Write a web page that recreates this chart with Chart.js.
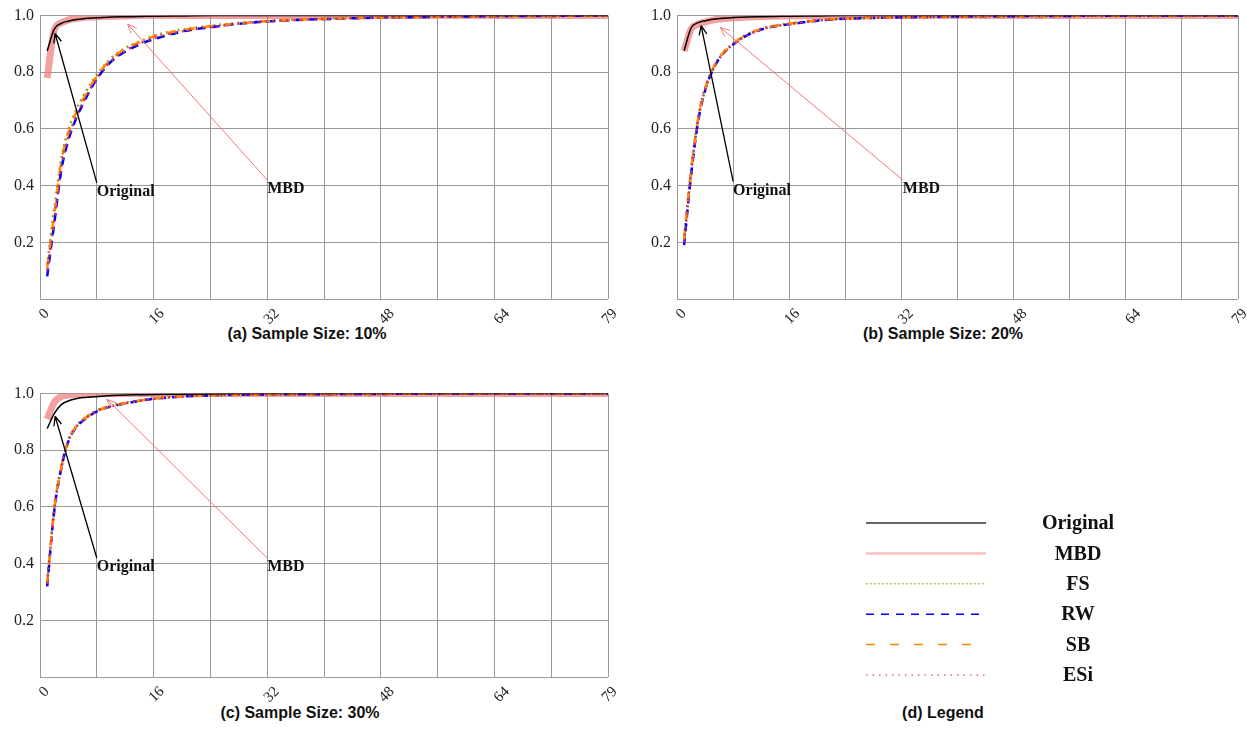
<!DOCTYPE html>
<html>
<head>
<meta charset="utf-8">
<script src="https://cdn.jsdelivr.net/npm/chart.js@4.4.0/dist/chart.umd.min.js"></script>
<style>
  body { margin: 0; background: #fff; width: 1247px; height: 756px; position: relative; overflow: hidden; }
  .panel { position: absolute; }
  .cap { position: absolute; width: 400px; text-align: center; font: bold 16px "Liberation Sans", Arial, sans-serif; color: #111; }
</style>
</head>
<body>
<div class="panel" style="left:0;top:0"><canvas id="c10" width="620" height="325"></canvas></div>
<div class="panel" style="left:637px;top:0"><canvas id="c20" width="610" height="325"></canvas></div>
<div class="panel" style="left:0;top:378px"><canvas id="c30" width="620" height="325"></canvas></div>
<div class="panel" style="left:637px;top:378px"><canvas id="cleg" width="610" height="325"></canvas></div>
<div class="cap" style="left:107px;top:325px">(a) Sample Size: 10%</div>
<div class="cap" style="left:743px;top:325px">(b) Sample Size: 20%</div>
<div class="cap" style="left:100px;top:704px">(c) Sample Size: 30%</div>
<div class="cap" style="left:743px;top:704px">(d) Legend</div>
<script>
// x positions shared by every curve
const xValues = [1, 2, 3, 4, 5, 6, 8, 10, 12, 14, 16, 20, 24, 28, 32, 40, 48, 56, 64, 72, 79];
const xTickValues = [0, 16, 32, 48, 64, 79];
const seriesNames = ['Original', 'MBD', 'FS', 'RW', 'SB', 'ESi'];

// (a) 10%
const original10 = [0.875, 0.953, 0.973, 0.981, 0.986, 0.989, 0.992, 0.995, 0.996, 0.997, 0.998, 0.999, 1, 1, 1, 1, 1, 1, 1, 1, 1];
const mbd10 = [0.78, 0.95, 0.975, 0.985, 0.99, 0.993, 0.996, 0.998, 0.999, 1, 1, 1, 1, 1, 1, 1, 1, 1, 1, 1, 1];
const fs10 = [0.12, 0.32, 0.5, 0.6, 0.665, 0.715, 0.795, 0.852, 0.887, 0.91, 0.93, 0.952, 0.965, 0.975, 0.982, 0.99, 0.994, 0.997, 0.998, 0.999, 1];
const rw10 = [0.08, 0.27, 0.46, 0.565, 0.635, 0.69, 0.78, 0.84, 0.875, 0.9, 0.918, 0.945, 0.96, 0.972, 0.98, 0.988, 0.993, 0.996, 0.998, 0.999, 1];
const sb10 = [0.11, 0.3, 0.49, 0.59, 0.655, 0.705, 0.79, 0.848, 0.885, 0.908, 0.928, 0.95, 0.963, 0.973, 0.981, 0.989, 0.993, 0.996, 0.998, 0.999, 1];
const esi10 = [0.1, 0.28, 0.47, 0.575, 0.64, 0.695, 0.782, 0.842, 0.878, 0.903, 0.922, 0.946, 0.96, 0.972, 0.98, 0.988, 0.993, 0.996, 0.998, 0.999, 1];

// (b) 20%
const original20 = [0.876, 0.957, 0.975, 0.982, 0.987, 0.99, 0.993, 0.995, 0.996, 0.997, 0.998, 0.999, 1, 1, 1, 1, 1, 1, 1, 1, 1];
const mbd20 = [0.875, 0.952, 0.97, 0.978, 0.984, 0.988, 0.992, 0.995, 0.997, 0.998, 0.999, 1, 1, 1, 1, 1, 1, 1, 1, 1, 1];
const fs20 = [0.22, 0.46, 0.645, 0.75, 0.81, 0.855, 0.905, 0.936, 0.955, 0.966, 0.973, 0.985, 0.99, 0.993, 0.995, 0.997, 0.998, 0.999, 1, 1, 1];
const rw20 = [0.19, 0.44, 0.63, 0.74, 0.805, 0.85, 0.9, 0.932, 0.952, 0.963, 0.97, 0.983, 0.989, 0.992, 0.994, 0.997, 0.998, 0.999, 1, 1, 1];
const sb20 = [0.21, 0.455, 0.64, 0.745, 0.81, 0.852, 0.903, 0.934, 0.954, 0.965, 0.972, 0.984, 0.99, 0.993, 0.995, 0.997, 0.998, 0.999, 1, 1, 1];
const esi20 = [0.2, 0.45, 0.635, 0.742, 0.807, 0.85, 0.9, 0.932, 0.952, 0.963, 0.971, 0.983, 0.989, 0.992, 0.994, 0.997, 0.998, 0.999, 1, 1, 1];

// (c) 30%
const original30 = [0.877, 0.93, 0.962, 0.975, 0.982, 0.986, 0.99, 0.993, 0.995, 0.996, 0.997, 0.998, 0.999, 1, 1, 1, 1, 1, 1, 1, 1];
const mbd30 = [0.91, 0.97, 0.99, 0.995, 0.997, 0.998, 0.999, 1, 1, 1, 1, 1, 1, 1, 1, 1, 1, 1, 1, 1, 1];
const fs30 = [0.34, 0.6, 0.75, 0.84, 0.885, 0.91, 0.942, 0.958, 0.968, 0.977, 0.984, 0.991, 0.995, 0.997, 0.998, 0.999, 1, 1, 1, 1, 1];
const rw30 = [0.32, 0.59, 0.74, 0.835, 0.88, 0.905, 0.938, 0.955, 0.966, 0.975, 0.982, 0.99, 0.994, 0.996, 0.997, 0.998, 0.999, 1, 1, 1, 1];
const sb30 = [0.33, 0.595, 0.745, 0.838, 0.883, 0.908, 0.94, 0.957, 0.967, 0.976, 0.983, 0.99, 0.994, 0.996, 0.997, 0.998, 0.999, 1, 1, 1, 1];
const esi30 = [0.33, 0.592, 0.742, 0.836, 0.881, 0.906, 0.939, 0.956, 0.966, 0.975, 0.982, 0.99, 0.994, 0.996, 0.997, 0.998, 0.999, 1, 1, 1, 1];

// arrow annotations, in data coordinates: [x, y] of label/tail and of head
const notes10 = [
  { text: 'Original', from: [7.9, 0.41], to: [2.1, 0.937], color: '#000' },
  { text: 'MBD', from: [31.6, 0.42], to: [12.2, 0.97], color: '#f07878' }
];
const notes20 = [
  { text: 'Original', from: [7.9, 0.415], to: [3.4, 0.965], color: '#000' },
  { text: 'MBD', from: [31.8, 0.42], to: [6.1, 0.958], color: '#f07878' }
];
const notes30 = [
  { text: 'Original', from: [7.9, 0.42], to: [2.1, 0.92], color: '#000' },
  { text: 'MBD', from: [31.6, 0.42], to: [9.3, 0.98], color: '#f07878' }
];

const styles = {
  Original: { color: '#000000', width: 1.5, dash: [], legendColor: '#333', legendWidth: 1.5, legendDash: [] },
  MBD: { color: 'rgba(240,120,120,0.7)', width: 7, dash: [], legendColor: '#ffc0c0', legendWidth: 2.5, legendDash: [] },
  FS: { color: '#aa9c10', width: 2.5, dash: [2, 4], legendColor: '#b8a830', legendWidth: 1.5, legendDash: [1.5, 2.5] },
  RW: { color: '#0000ff', width: 2.5, dash: [8, 6], legendColor: '#0000ff', legendWidth: 1.5, legendDash: [8, 7] },
  SB: { color: '#ff8800', width: 2.5, dash: [9, 10], legendColor: '#ff8800', legendWidth: 1.5, legendDash: [9, 15] },
  ESi: { color: '#d42c68', width: 2.5, dash: [2, 5], legendColor: '#e06090', legendWidth: 1.5, legendDash: [1.5, 5] }
};
// draw order: first dataset ends up on top
const drawOrder = ['Original', 'ESi', 'SB', 'RW', 'FS', 'MBD'];

const arrowPlugin = {
  id: 'arrows',
  afterDatasetsDraw(chart, args, opts) {
    const { ctx } = chart;
    const x = chart.scales.x, y = chart.scales.y;
    (opts.items || []).forEach(n => {
      const x0 = x.getPixelForValue(n.from[0]), y0 = y.getPixelForValue(n.from[1]);
      const x1 = x.getPixelForValue(n.to[0]), y1 = y.getPixelForValue(n.to[1]);
      const ang = Math.atan2(y1 - y0, x1 - x0);
      ctx.save();
      ctx.strokeStyle = n.color;
      ctx.lineWidth = n.color === '#000' ? 1.3 : 1;
      ctx.beginPath();
      ctx.moveTo(x0, y0);
      ctx.lineTo(x1, y1);
      for (const s of [-0.4, 0.4]) {
        ctx.moveTo(x1, y1);
        ctx.lineTo(x1 - 10 * Math.cos(ang + s), y1 - 10 * Math.sin(ang + s));
      }
      ctx.stroke();
      ctx.fillStyle = '#111';
      ctx.font = 'bold 16px "Liberation Serif", serif';
      ctx.textBaseline = 'top';
      ctx.textAlign = 'left';
      ctx.fillText(n.text, x0, y0 + 1);
      ctx.restore();
    });
  }
};

function makeChart(id, series, notes, rightPad) {
  const datasets = drawOrder.map(name => ({
    label: name,
    data: xValues.map((xv, i) => ({ x: xv, y: series[name][i] })),
    borderColor: styles[name].color,
    borderWidth: styles[name].width,
    borderDash: styles[name].dash,
    pointRadius: 0,
    fill: false,
    cubicInterpolationMode: 'monotone'
  }));
  return new Chart(document.getElementById(id), {
    type: 'line',
    data: { datasets },
    plugins: [arrowPlugin],
    options: {
      responsive: false,
      animation: false,
      layout: { padding: { top: 15, right: rightPad, left: 0, bottom: 0 } },
      plugins: { legend: { display: false }, tooltip: { enabled: false }, arrows: { items: notes } },
      scales: {
        xg: {
          type: 'linear', position: 'bottom', min: 0, max: 79,
          afterBuildTicks: s => { s.ticks = Array.from({ length: 11 }, (_, i) => ({ value: i * 7.9 })); },
          afterFit: s => { s.height = 0; s.paddingLeft = 0; s.paddingRight = 0; },
          ticks: { display: false },
          grid: { color: '#999', lineWidth: 1, drawTicks: false },
          border: { display: false }
        },
        x: {
          type: 'linear', position: 'bottom', min: 0, max: 79,
          afterBuildTicks: s => { s.ticks = xTickValues.map(v => ({ value: v })); },
          afterFit: s => { s.height = 26; s.paddingLeft = 0; s.paddingRight = 0; },
          grid: { display: false, drawTicks: false },
          border: { display: false },
          ticks: { minRotation: 45, maxRotation: 45, padding: 6, labelOffset: 7, color: '#222', font: { family: '"Liberation Serif", serif', size: 15 } }
        },
        y: {
          min: 0, max: 1,
          afterFit: s => { s.width = 40; },
          ticks: { stepSize: 0.2, padding: 6, color: '#222', font: { family: '"Liberation Serif", serif', size: 16 },
            callback: v => (v === 0 ? '' : v.toFixed(1)) },
          grid: { color: '#999', lineWidth: 1, drawTicks: false },
          border: { color: '#999' }
        }
      }
    }
  });
}

makeChart('c10', { Original: original10, MBD: mbd10, FS: fs10, RW: rw10, SB: sb10, ESi: esi10 }, notes10, 12);
makeChart('c20', { Original: original20, MBD: mbd20, FS: fs20, RW: rw20, SB: sb20, ESi: esi20 }, notes20, 9);
makeChart('c30', { Original: original30, MBD: mbd30, FS: fs30, RW: rw30, SB: sb30, ESi: esi30 }, notes30, 12);

// legend panel: a chart with no data whose plugin draws one row per series
const legendPlugin = {
  id: 'seriesKey',
  afterDraw(chart) {
    const { ctx } = chart;
    chart.data.datasets.forEach((ds, i) => {
      const yRow = 145 + i * 30.4;
      ctx.save();
      ctx.strokeStyle = ds.borderColor;
      ctx.lineWidth = ds.borderWidth;
      ctx.setLineDash(ds.borderDash);
      ctx.beginPath();
      ctx.moveTo(229, yRow);
      ctx.lineTo(349, yRow);
      ctx.stroke();
      ctx.fillStyle = '#111';
      ctx.font = 'bold 20px "Liberation Serif", serif';
      ctx.textAlign = 'center';
      ctx.textBaseline = 'middle';
      ctx.fillText(ds.label, 441, yRow + 1);
      ctx.restore();
    });
  }
};
new Chart(document.getElementById('cleg'), {
  type: 'line',
  data: {
    datasets: seriesNames.map(name => ({
      label: name, data: [],
      borderColor: styles[name].legendColor,
      borderWidth: styles[name].legendWidth,
      borderDash: styles[name].legendDash
    }))
  },
  plugins: [legendPlugin],
  options: {
    responsive: false, animation: false,
    plugins: { legend: { display: false }, tooltip: { enabled: false } },
    scales: { x: { display: false }, y: { display: false } }
  }
});
</script>
</body>
</html>
